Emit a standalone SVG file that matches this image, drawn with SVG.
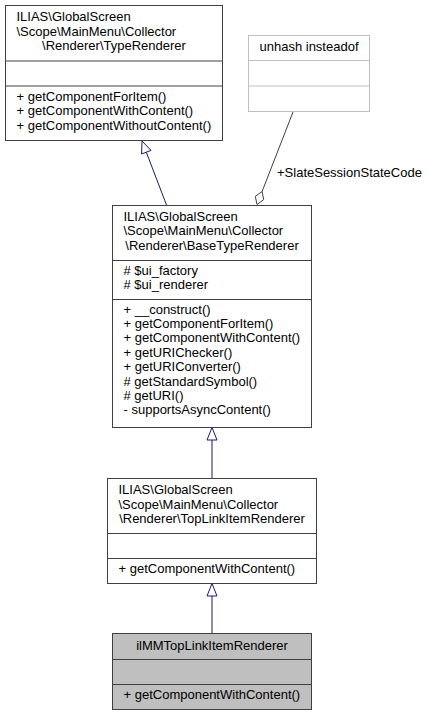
<svg xmlns="http://www.w3.org/2000/svg" width="429" height="716" viewBox="0 0 429 716">
<style>
text{font-family:"Liberation Sans",Arial,Helvetica,sans-serif;font-size:13px;fill:#000}
.c{text-anchor:middle}
.box{fill:#fff;stroke:#404040;stroke-width:1}
.sel{fill:#bfbfbf;stroke:#404040;stroke-width:1}
.sep{stroke:#404040;stroke-width:1}
.ext{fill:#fff;stroke:#bfbfbf;stroke-width:1}
.sepx{stroke:#bfbfbf;stroke-width:1}
.inh{stroke:#191970;stroke-width:1;fill:none}
.inhh{stroke:#191970;stroke-width:1;fill:#fff}
.use{stroke:#404040;stroke-width:1;fill:none}
.useh{stroke:#404040;stroke-width:1;fill:#fff}
</style>
<rect width="429" height="716" fill="#fff"/>
<g id="connectors">
<line class="inh" x1="166.5" y1="205" x2="146.3" y2="152.2"/>
<polygon class="inhh" points="142,141 151,150.4 141.6,154"/>
<line class="use" x1="293" y1="112" x2="262.1" y2="191.5"/>
<polygon class="useh" points="257,204.5 263.7,199.6 262.1,191.5 255.3,196.4"/>
<text x="277" y="177">+SlateSessionStateCode</text>
<line class="inh" x1="212" y1="478" x2="212" y2="440"/>
<polygon class="inhh" points="212,427.5 207,440 217,440"/>
<line class="inh" x1="212" y1="634" x2="212" y2="596"/>
<polygon class="inhh" points="212,583.5 207,596 217,596"/>
</g>
<g id="TypeRenderer">
<rect class="box" x="5.5" y="5.5" width="217" height="135"/>
<text x="16.5" y="21">ILIAS\GlobalScreen</text>
<text x="16.5" y="35.5">\Scope\MainMenu\Collector</text>
<text class="c" x="114" y="50">\Renderer\TypeRenderer</text>
<line class="sep" x1="5.5" y1="61" x2="222.5" y2="61"/>
<line class="sep" x1="5.5" y1="86" x2="222.5" y2="86"/>
<text x="16.5" y="100.5">+ getComponentForItem()</text>
<text x="16.5" y="115">+ getComponentWithContent()</text>
<text x="16.5" y="129.5">+ getComponentWithoutContent()</text>
</g>
<g id="unhash">
<rect class="ext" x="248.5" y="35.5" width="121" height="76"/>
<text class="c" x="309" y="51">unhash insteadof</text>
<line class="sepx" x1="248.5" y1="60.5" x2="369.5" y2="60.5"/>
<line class="sepx" x1="248.5" y1="86" x2="369.5" y2="86"/>
</g>
<g id="BaseTypeRenderer">
<rect class="box" x="112.5" y="205.5" width="199" height="222"/>
<text x="123.5" y="220.5">ILIAS\GlobalScreen</text>
<text x="123.5" y="235">\Scope\MainMenu\Collector</text>
<text class="c" x="212" y="249.5">\Renderer\BaseTypeRenderer</text>
<line class="sep" x1="112.5" y1="260.5" x2="311.5" y2="260.5"/>
<text x="123.5" y="274.5"># $ui_factory</text>
<text x="123.5" y="289"># $ui_renderer</text>
<line class="sep" x1="112.5" y1="299.5" x2="311.5" y2="299.5"/>
<text x="123.5" y="313.5">+ __construct()</text>
<text x="123.5" y="327.9">+ getComponentForItem()</text>
<text x="123.5" y="342.3">+ getComponentWithContent()</text>
<text x="123.5" y="356.7">+ getURIChecker()</text>
<text x="123.5" y="371.1">+ getURIConverter()</text>
<text x="123.5" y="385.5"># getStandardSymbol()</text>
<text x="123.5" y="399.9"># getURI()</text>
<text x="123.5" y="414.3">- supportsAsyncContent()</text>
</g>
<g id="TopLinkItemRenderer">
<rect class="box" x="107.5" y="478.5" width="209" height="105"/>
<text x="118.5" y="494">ILIAS\GlobalScreen</text>
<text x="118.5" y="508.5">\Scope\MainMenu\Collector</text>
<text class="c" x="212" y="523">\Renderer\TopLinkItemRenderer</text>
<line class="sep" x1="107.5" y1="533.5" x2="316.5" y2="533.5"/>
<line class="sep" x1="107.5" y1="558.5" x2="316.5" y2="558.5"/>
<text x="118.5" y="572.5">+ getComponentWithContent()</text>
</g>
<g id="ilMMTopLinkItemRenderer">
<rect class="sel" x="112.5" y="633.5" width="199" height="76"/>
<text class="c" x="212" y="649.5">ilMMTopLinkItemRenderer</text>
<line class="sep" x1="112.5" y1="659.5" x2="311.5" y2="659.5"/>
<line class="sep" x1="112.5" y1="684.5" x2="311.5" y2="684.5"/>
<text x="123.5" y="698.5">+ getComponentWithContent()</text>
</g>
</svg>
